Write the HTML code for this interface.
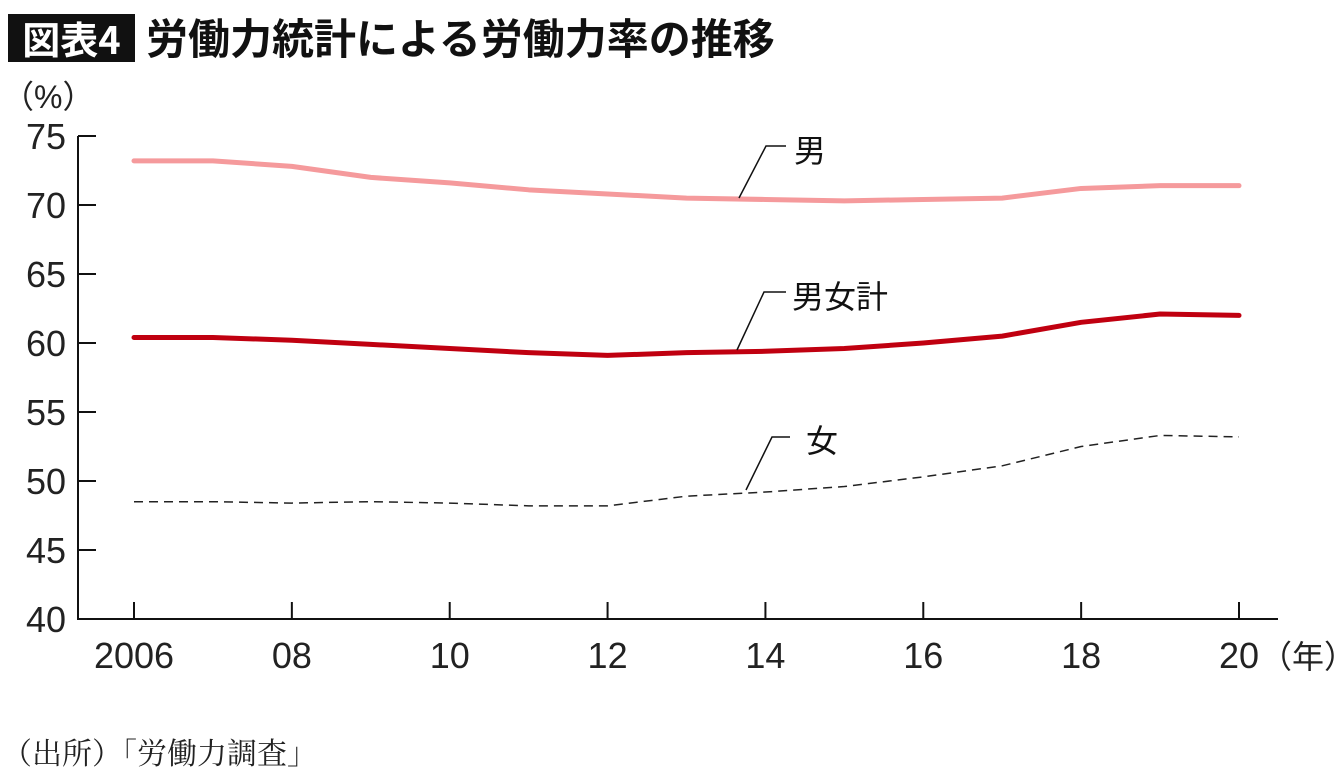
<!DOCTYPE html>
<html><head><meta charset="utf-8">
<style>
html,body{margin:0;padding:0;background:#fff;}
body{width:1340px;height:778px;overflow:hidden;position:relative;font-family:"Liberation Sans","Noto Sans CJK JP",sans-serif;}
</style></head>
<body>
<div style="position:absolute;left:8px;top:14px;width:127px;height:48px;background:#111;color:#fff;font-size:38px;font-weight:bold;line-height:48px;text-align:center;font-family:'Noto Sans CJK JP',sans-serif;">図表4</div>
<div style="position:absolute;left:146px;top:10px;font-size:42px;font-weight:bold;line-height:54px;color:#111;font-family:'Noto Sans CJK JP',sans-serif;">労働力統計による労働力率の推移</div>
<div style="position:absolute;left:2px;top:731px;font-size:30px;line-height:40px;color:#222;font-family:'Noto Serif CJK SC','Noto Sans CJK JP',serif;">（出所）「労働力調査」</div>
<svg id="chart" width="1340" height="778" style="position:absolute;left:0;top:0;" xmlns="http://www.w3.org/2000/svg"></svg>
<script>
const years=[2006,2007,2008,2009,2010,2011,2012,2013,2014,2015,2016,2017,2018,2019,2020];
const male=[73.2,73.2,72.8,72.0,71.6,71.1,70.8,70.5,70.4,70.3,70.4,70.5,71.2,71.4,71.4];
const total=[60.4,60.4,60.2,59.9,59.6,59.3,59.1,59.3,59.4,59.6,60.0,60.5,61.5,62.1,62.0];
const female=[48.5,48.5,48.4,48.5,48.4,48.2,48.2,48.9,49.2,49.6,50.3,51.1,52.5,53.3,53.2];
const yTicks=[40,45,50,55,60,65,70,75];
const xTicks=[2006,2008,2010,2012,2014,2016,2018,2020];
const xLabels=["2006","08","10","12","14","16","18","20"];

const svg=document.getElementById('chart');
const NS='http://www.w3.org/2000/svg';
const X=v=>134+(v-2006)*(1239-134)/14;
const Y=v=>619-(v-40)*(619-136)/35;
function mk(tag,attrs){const e=document.createElementNS(NS,tag);for(const k in attrs)e.setAttribute(k,attrs[k]);svg.appendChild(e);return e;}
const font='"Liberation Sans","Noto Sans CJK JP",sans-serif';

let e=mk('line',{x1:78,y1:136,x2:78,y2:619,stroke:'#111','stroke-width':2});


e=mk('line',{x1:77,y1:619,x2:1278,y2:619,stroke:'#111','stroke-width':2});



yTicks.forEach(t=>{
  let l=mk('line',{x1:78,y1:Y(t),x2:96,y2:Y(t),stroke:'#111','stroke-width':2});
  
  
  let tx=mk('text',{x:66,y:Y(t)+13,'text-anchor':'end','font-size':36,fill:'#222','font-family':font});
  tx.textContent=t;
  
  
});
let u=mk('text',{x:2,y:108,'font-size':32,fill:'#222','font-family':font});
u.textContent='（%）';



xTicks.forEach((t,i)=>{
  let l=mk('line',{x1:X(t),y1:602,x2:X(t),y2:619,stroke:'#111','stroke-width':2});
  
  
  let tx=mk('text',{x:X(t),y:668,'text-anchor':'middle','font-size':36,fill:'#222','font-family':font});
  tx.textContent=xLabels[i];
  
  
});
let xu=mk('text',{x:1260,y:668,'font-size':32,fill:'#222','font-family':font});
xu.textContent='（年）';



function pts(arr){return arr.map((v,i)=>X(years[i])+','+Y(v)).join(' ');}
let p=mk('polyline',{points:pts(male),fill:'none',stroke:'#f59a9c','stroke-width':5,'stroke-linejoin':'round','stroke-linecap':'round'});


p=mk('polyline',{points:pts(total),fill:'none',stroke:'#c00010','stroke-width':5,'stroke-linejoin':'round','stroke-linecap':'round'});


p=mk('polyline',{points:pts(female),fill:'none',stroke:'#222','stroke-width':1.5,'stroke-dasharray':'9,6'});



function callout(x1,y1,x2,y2,x3,label,tx,ty,name){
  let l=mk('polyline',{points:`${x1},${y1} ${x2},${y2} ${x3},${y2}`,fill:'none',stroke:'#111','stroke-width':1.5});
  
  
  let t=mk('text',{x:tx,y:ty,'font-size':32,fill:'#111','font-family':font});
  t.textContent=label;
  
  
}
callout(739,198,766,146,786,'男',794,162,'male');
callout(737,350,764,292,786,'男女計',792,308,'total');
callout(746,490,772,437,790,'女',806,452,'female');
</script>
</body></html>
